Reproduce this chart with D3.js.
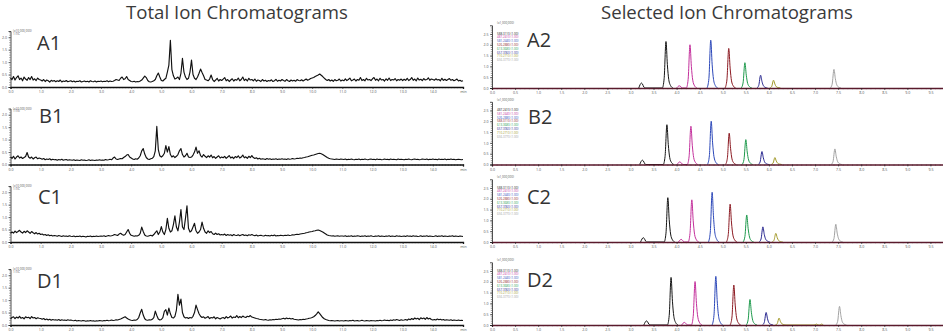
<!DOCTYPE html>
<html>
<head>
<meta charset="utf-8">
<script src="https://cdn.jsdelivr.net/npm/d3@7"></script>
<style>
  body { margin: 0; background: #fff; }
  svg { display: block; }
  text { font-family: "Open Sans", "Noto Sans", sans-serif; }
</style>
</head>
<body>
<svg id="chart" width="943" height="332"></svg>
<script>
// ---- total ion chromatograms, one value every 0.05 min from 0.0 to 15.0 (x10,000,000)
const ticStep = 0.05;
const ticA1 = [
  0.35,
  0.3, 0.42, 0.28, 0.38, 0.45, 0.3, 0.36, 0.25, 0.4, 0.32, 0.27, 0.38, 0.3, 0.42, 0.28, 0.33, 0.26, 0.36, 0.3, 0.28,
  0.24, 0.3, 0.22, 0.28, 0.25, 0.2, 0.27, 0.23, 0.26, 0.21, 0.25, 0.22, 0.28, 0.2, 0.24, 0.22, 0.26, 0.21, 0.23, 0.25,
  0.21, 0.24, 0.2, 0.23, 0.22, 0.25, 0.2, 0.22, 0.24, 0.21, 0.23, 0.2, 0.25, 0.22, 0.21, 0.24, 0.2, 0.23, 0.22, 0.24,
  0.21, 0.23, 0.22, 0.25, 0.21, 0.24, 0.22, 0.23, 0.26, 0.3, 0.28, 0.26, 0.35, 0.4, 0.3, 0.33, 0.42, 0.3, 0.26, 0.22,
  0.21, 0.23, 0.2, 0.22, 0.21, 0.24, 0.28, 0.36, 0.44, 0.38, 0.26, 0.21, 0.2, 0.22, 0.25, 0.3, 0.45, 0.56, 0.4, 0.26,
  0.24, 0.3, 0.35, 0.6, 0.88, 1.88, 0.7, 0.45, 0.32, 0.35, 0.4, 0.3, 0.55, 1.15, 0.6, 0.4, 0.3, 0.35, 0.6, 1.08,
  0.5, 0.35, 0.3, 0.4, 0.55, 0.72, 0.58, 0.45, 0.3, 0.28, 0.25, 0.32, 0.48, 0.3, 0.22, 0.28, 0.35, 0.24, 0.3, 0.26,
  0.32, 0.38, 0.25, 0.3, 0.22, 0.28, 0.33, 0.24, 0.3, 0.27, 0.36, 0.25, 0.3, 0.4, 0.26, 0.32, 0.24, 0.35, 0.28, 0.3,
  0.25, 0.32, 0.23, 0.28, 0.26, 0.22, 0.3, 0.24, 0.27, 0.22, 0.26, 0.24, 0.29, 0.22, 0.25, 0.31, 0.23, 0.27, 0.24, 0.3,
  0.26, 0.23, 0.3, 0.25, 0.22, 0.28, 0.24, 0.27, 0.23, 0.3, 0.26, 0.25, 0.29, 0.24, 0.28, 0.32, 0.27, 0.3, 0.34, 0.36,
  0.38, 0.42, 0.45, 0.48, 0.52, 0.47, 0.42, 0.36, 0.3, 0.26, 0.3, 0.24, 0.28, 0.23, 0.3, 0.25, 0.27, 0.32, 0.24, 0.28,
  0.25, 0.33, 0.26, 0.3, 0.36, 0.25, 0.28, 0.32, 0.24, 0.3, 0.27, 0.38, 0.26, 0.3, 0.25, 0.35, 0.28, 0.3, 0.26, 0.33,
  0.38, 0.27, 0.32, 0.25, 0.35, 0.28, 0.3, 0.24, 0.33, 0.27, 0.36, 0.26, 0.3, 0.28, 0.34, 0.25, 0.3, 0.27, 0.32, 0.26,
  0.31, 0.27, 0.35, 0.26, 0.3, 0.38, 0.27, 0.32, 0.25, 0.36, 0.28, 0.31, 0.26, 0.34, 0.28, 0.3, 0.37, 0.27, 0.32, 0.3,
  0.27, 0.33, 0.28, 0.3, 0.25, 0.35, 0.27, 0.31, 0.26, 0.3, 0.34, 0.27, 0.3, 0.25, 0.28, 0.32, 0.24, 0.27, 0.23, 0.25
];
const ticB1 = [
  0.3,
  0.25, 0.33, 0.22, 0.3, 0.35, 0.26, 0.3, 0.24, 0.28, 0.32, 0.48, 0.3, 0.25, 0.3, 0.22, 0.27, 0.3, 0.23, 0.26, 0.24,
  0.21, 0.24, 0.19, 0.22, 0.2, 0.23, 0.18, 0.21, 0.19, 0.2, 0.17, 0.2, 0.18, 0.21, 0.17, 0.19, 0.2, 0.17, 0.19, 0.18,
  0.17, 0.19, 0.16, 0.18, 0.17, 0.16, 0.19, 0.17, 0.18, 0.16, 0.17, 0.19, 0.16, 0.18, 0.17, 0.16, 0.18, 0.17, 0.19, 0.17,
  0.18, 0.17, 0.2, 0.18, 0.19, 0.21, 0.19, 0.26, 0.3, 0.22, 0.2, 0.22, 0.24, 0.23, 0.28, 0.32, 0.38, 0.4, 0.3, 0.26,
  0.22, 0.2, 0.23, 0.21, 0.26, 0.35, 0.55, 0.64, 0.42, 0.28, 0.22, 0.2, 0.23, 0.25, 0.32, 0.55, 1.53, 0.6, 0.35, 0.3,
  0.35, 0.45, 0.76, 0.5, 0.72, 0.4, 0.3, 0.35, 0.28, 0.33, 0.4, 0.55, 0.64, 0.4, 0.3, 0.35, 0.45, 0.3, 0.28, 0.3,
  0.38, 0.5, 0.7, 0.45, 0.55, 0.36, 0.3, 0.4, 0.33, 0.28, 0.35, 0.3, 0.38, 0.27, 0.32, 0.25, 0.3, 0.35, 0.26, 0.3,
  0.27, 0.33, 0.25, 0.3, 0.36, 0.26, 0.3, 0.24, 0.32, 0.28, 0.35, 0.26, 0.3, 0.38, 0.27, 0.31, 0.25, 0.33, 0.28, 0.36,
  0.28, 0.24, 0.27, 0.22, 0.25, 0.21, 0.23, 0.22, 0.2, 0.24, 0.21, 0.23, 0.2, 0.22, 0.21, 0.23, 0.2, 0.22, 0.21, 0.23,
  0.21, 0.22, 0.2, 0.23, 0.21, 0.22, 0.24, 0.22, 0.23, 0.25, 0.24, 0.26, 0.25, 0.27, 0.28, 0.3, 0.31, 0.33, 0.35, 0.37,
  0.38, 0.4, 0.42, 0.44, 0.45, 0.43, 0.4, 0.36, 0.32, 0.28, 0.25, 0.23, 0.22, 0.21, 0.2, 0.22, 0.21, 0.2, 0.22, 0.21,
  0.2, 0.22, 0.19, 0.21, 0.2, 0.22, 0.2, 0.19, 0.21, 0.2, 0.22, 0.19, 0.21, 0.2, 0.22, 0.2, 0.19, 0.21, 0.22, 0.2,
  0.21, 0.19, 0.22, 0.2, 0.21, 0.19, 0.2, 0.22, 0.2, 0.21, 0.19, 0.22, 0.2, 0.21, 0.2, 0.19, 0.22, 0.2, 0.21, 0.2,
  0.19, 0.21, 0.2, 0.22, 0.2, 0.19, 0.21, 0.22, 0.2, 0.21, 0.19, 0.2, 0.22, 0.21, 0.2, 0.22, 0.19, 0.21, 0.2, 0.22,
  0.2, 0.21, 0.19, 0.22, 0.2, 0.21, 0.2, 0.22, 0.19, 0.21, 0.2, 0.22, 0.2, 0.21, 0.19, 0.2, 0.21, 0.2, 0.19, 0.2
];
const ticC1 = [
  0.35,
  0.4, 0.36, 0.44, 0.38, 0.42, 0.47, 0.4, 0.36, 0.43, 0.38, 0.45, 0.4, 0.35, 0.42, 0.37, 0.33, 0.38, 0.32, 0.35, 0.3,
  0.32, 0.28, 0.3, 0.26, 0.29, 0.25, 0.27, 0.24, 0.26, 0.25, 0.23, 0.26, 0.24, 0.22, 0.25, 0.23, 0.24, 0.22, 0.25, 0.23,
  0.22, 0.24, 0.21, 0.23, 0.22, 0.24, 0.21, 0.23, 0.22, 0.2, 0.23, 0.22, 0.24, 0.21, 0.23, 0.22, 0.24, 0.22, 0.23, 0.24,
  0.23, 0.25, 0.22, 0.24, 0.26, 0.24, 0.25, 0.27, 0.3, 0.28, 0.26, 0.32, 0.35, 0.3, 0.27, 0.3, 0.4, 0.5, 0.35, 0.27,
  0.25, 0.23, 0.25, 0.24, 0.27, 0.35, 0.6, 0.42, 0.28, 0.24, 0.23, 0.25, 0.27, 0.24, 0.3, 0.38, 0.45, 0.3, 0.4, 0.62,
  0.4, 0.3, 0.5, 0.95, 0.55, 0.4, 0.45, 0.7, 1.05, 0.6, 0.45, 0.8, 1.3, 0.6, 0.5, 0.95, 1.45, 0.55, 0.4, 0.45,
  0.6, 0.75, 0.45, 0.35, 0.4, 0.5, 0.8, 0.55, 0.4, 0.35, 0.45, 0.38, 0.42, 0.33, 0.3, 0.36, 0.3, 0.33, 0.28, 0.3,
  0.28, 0.32, 0.26, 0.3, 0.27, 0.29, 0.25, 0.3, 0.27, 0.26, 0.29, 0.25, 0.28, 0.3, 0.26, 0.28, 0.25, 0.29, 0.27, 0.3,
  0.27, 0.25, 0.28, 0.24, 0.26, 0.27, 0.25, 0.24, 0.27, 0.25, 0.26, 0.24, 0.27, 0.25, 0.28, 0.24, 0.26, 0.25, 0.27, 0.26,
  0.25, 0.27, 0.26, 0.28, 0.26, 0.27, 0.29, 0.28, 0.3, 0.31, 0.3, 0.32, 0.33, 0.34, 0.35, 0.37, 0.38, 0.4, 0.41, 0.42,
  0.44, 0.45, 0.47, 0.48, 0.46, 0.43, 0.4, 0.36, 0.32, 0.28, 0.26, 0.25, 0.24, 0.25, 0.23, 0.24, 0.25, 0.23, 0.24, 0.24,
  0.23, 0.25, 0.22, 0.24, 0.23, 0.25, 0.22, 0.24, 0.23, 0.25, 0.24, 0.22, 0.24, 0.23, 0.25, 0.22, 0.24, 0.23, 0.25, 0.23,
  0.22, 0.24, 0.23, 0.25, 0.22, 0.24, 0.23, 0.22, 0.24, 0.23, 0.25, 0.22, 0.24, 0.23, 0.22, 0.25, 0.23, 0.24, 0.22, 0.23,
  0.24, 0.22, 0.25, 0.23, 0.24, 0.22, 0.25, 0.23, 0.24, 0.22, 0.23, 0.25, 0.22, 0.24, 0.23, 0.25, 0.22, 0.24, 0.23, 0.22,
  0.23, 0.25, 0.22, 0.24, 0.23, 0.25, 0.22, 0.24, 0.23, 0.22, 0.24, 0.23, 0.25, 0.22, 0.24, 0.23, 0.22, 0.24, 0.23, 0.22
];
const ticD1 = [
  0.25,
  0.3, 0.33, 0.26, 0.32, 0.28, 0.35, 0.27, 0.3, 0.25, 0.33, 0.29, 0.31, 0.26, 0.34, 0.28, 0.3, 0.25, 0.29, 0.27, 0.26,
  0.23, 0.26, 0.21, 0.24, 0.2, 0.23, 0.19, 0.22, 0.2, 0.21, 0.19, 0.22, 0.18, 0.21, 0.19, 0.2, 0.18, 0.21, 0.19, 0.2,
  0.18, 0.17, 0.19, 0.16, 0.18, 0.17, 0.16, 0.18, 0.17, 0.15, 0.17, 0.16, 0.18, 0.16, 0.17, 0.15, 0.17, 0.16, 0.18, 0.17,
  0.16, 0.18, 0.17, 0.19, 0.17, 0.18, 0.2, 0.18, 0.19, 0.21, 0.2, 0.22, 0.24, 0.27, 0.3, 0.33, 0.28, 0.24, 0.21, 0.19,
  0.18, 0.2, 0.19, 0.22, 0.3, 0.48, 0.63, 0.4, 0.25, 0.2, 0.19, 0.21, 0.2, 0.23, 0.3, 0.56, 0.38, 0.24, 0.2, 0.22,
  0.3, 0.55, 0.62, 0.4, 0.68, 0.45, 0.3, 0.28, 0.35, 0.6, 1.23, 0.8, 1.04, 0.5, 0.33, 0.28, 0.3, 0.26, 0.3, 0.28,
  0.35, 0.5, 0.8, 0.62, 0.45, 0.35, 0.3, 0.33, 0.27, 0.3, 0.34, 0.26, 0.3, 0.28, 0.33, 0.25, 0.3, 0.27, 0.24, 0.28,
  0.3, 0.26, 0.34, 0.28, 0.31, 0.36, 0.28, 0.32, 0.3, 0.38, 0.29, 0.34, 0.3, 0.36, 0.32, 0.3, 0.35, 0.33, 0.38, 0.32,
  0.3, 0.28, 0.26, 0.25, 0.23, 0.22, 0.21, 0.2, 0.22, 0.2, 0.19, 0.21, 0.2, 0.22, 0.21, 0.23, 0.22, 0.24, 0.23, 0.25,
  0.27, 0.24, 0.28, 0.25, 0.27, 0.24, 0.26, 0.23, 0.22, 0.21, 0.2, 0.22, 0.21, 0.23, 0.22, 0.24, 0.25, 0.27, 0.28, 0.3,
  0.33, 0.38, 0.45, 0.53, 0.46, 0.38, 0.3, 0.25, 0.22, 0.2, 0.18, 0.17, 0.18, 0.17, 0.16, 0.17, 0.18, 0.16, 0.17, 0.17,
  0.16, 0.18, 0.17, 0.16, 0.18, 0.17, 0.19, 0.16, 0.17, 0.18, 0.16, 0.17, 0.19, 0.17, 0.16, 0.18, 0.17, 0.16, 0.18, 0.17,
  0.17, 0.16, 0.18, 0.17, 0.19, 0.17, 0.18, 0.2, 0.18, 0.19, 0.17, 0.2, 0.18, 0.21, 0.19, 0.22, 0.2, 0.18, 0.21, 0.19,
  0.2, 0.22, 0.19, 0.24, 0.21, 0.26, 0.22, 0.28, 0.24, 0.27, 0.22, 0.29, 0.25, 0.28, 0.23, 0.3, 0.24, 0.27, 0.22, 0.2,
  0.22, 0.2, 0.24, 0.21, 0.23, 0.2, 0.22, 0.19, 0.21, 0.2, 0.19, 0.21, 0.18, 0.2, 0.19, 0.18, 0.2, 0.18, 0.19, 0.18
];

// ---- selected ion chromatograms: [min, intensity x1,000,000], one list per ion
const sicA2 = [
  [[3.18,0],[3.24,0.23],[3.31,0],[3.69,0],[3.73,0.43],[3.77,2.15],[3.8,1.08],[3.83,0.39],[3.87,0.11],[3.92,0]],
  [[4.0,0],[4.06,0.1],[4.13,0],[4.21,0],[4.25,0.4],[4.29,2.0],[4.32,1.0],[4.35,0.36],[4.39,0.1],[4.44,0]],
  [[4.66,0],[4.7,0.44],[4.74,2.21],[4.77,1.1],[4.8,0.4],[4.84,0.11],[4.89,0]],
  [[5.05,0],[5.09,0.37],[5.13,1.83],[5.16,0.92],[5.19,0.33],[5.23,0.09],[5.28,0]],
  [[5.4,0],[5.44,0.23],[5.48,1.17],[5.51,0.59],[5.54,0.21],[5.58,0.06],[5.63,0]],
  [[5.74,0],[5.78,0.12],[5.82,0.59],[5.85,0.3],[5.88,0.11],[5.92,0.03],[5.97,0]],
  [[6.02,0],[6.06,0.07],[6.1,0.36],[6.13,0.18],[6.16,0.06],[6.2,0.02],[6.25,0]],
  [[7.33,0],[7.37,0.17],[7.41,0.86],[7.44,0.43],[7.47,0.15],[7.51,0.04],[7.56,0]]
];
const sicB2 = [
  [[3.2,0],[3.26,0.2],[3.33,0],[3.71,0],[3.75,0.37],[3.79,1.84],[3.82,0.92],[3.85,0.33],[3.89,0.09],[3.94,0]],
  [[4.01,0],[4.07,0.12],[4.14,0],[4.23,0],[4.27,0.35],[4.31,1.77],[4.34,0.89],[4.37,0.32],[4.41,0.09],[4.46,0]],
  [[4.67,0],[4.71,0.4],[4.75,2.0],[4.78,1.0],[4.81,0.36],[4.85,0.1],[4.9,0]],
  [[5.06,0],[5.1,0.29],[5.14,1.45],[5.17,0.73],[5.2,0.26],[5.24,0.07],[5.29,0]],
  [[5.42,0],[5.46,0.23],[5.5,1.15],[5.53,0.58],[5.56,0.21],[5.6,0.06],[5.65,0]],
  [[5.77,0],[5.81,0.12],[5.85,0.6],[5.88,0.3],[5.91,0.11],[5.95,0.03],[6.0,0]],
  [[6.05,0],[6.09,0.06],[6.13,0.32],[6.16,0.16],[6.19,0.06],[6.23,0.02],[6.28,0]],
  [[7.35,0],[7.39,0.14],[7.43,0.72],[7.46,0.36],[7.49,0.13],[7.53,0.04],[7.58,0]]
];
const sicC2 = [
  [[3.22,0],[3.28,0.2],[3.35,0],[3.73,0],[3.77,0.41],[3.81,2.05],[3.84,1.03],[3.87,0.37],[3.91,0.1],[3.96,0]],
  [[4.04,0],[4.1,0.12],[4.17,0],[4.25,0],[4.29,0.39],[4.33,1.95],[4.36,0.98],[4.39,0.35],[4.43,0.1],[4.48,0]],
  [[4.69,0],[4.73,0.46],[4.77,2.3],[4.8,1.15],[4.83,0.41],[4.87,0.12],[4.92,0]],
  [[5.08,0],[5.12,0.35],[5.16,1.75],[5.19,0.88],[5.22,0.32],[5.26,0.09],[5.31,0]],
  [[5.44,0],[5.48,0.25],[5.52,1.25],[5.55,0.63],[5.58,0.23],[5.62,0.06],[5.67,0]],
  [[5.79,0],[5.83,0.14],[5.87,0.7],[5.9,0.35],[5.93,0.13],[5.97,0.04],[6.02,0]],
  [[6.07,0],[6.11,0.08],[6.15,0.4],[6.18,0.2],[6.21,0.07],[6.25,0.02],[6.3,0]],
  [[7.37,0],[7.41,0.16],[7.45,0.82],[7.48,0.41],[7.51,0.15],[7.55,0.04],[7.6,0]]
];
const sicD2 = [
  [[3.29,0],[3.35,0.19],[3.42,0],[3.8,0],[3.84,0.44],[3.88,2.2],[3.91,1.1],[3.94,0.4],[3.98,0.11],[4.03,0]],
  [[4.11,0],[4.17,0.12],[4.24,0],[4.32,0],[4.36,0.4],[4.4,2.01],[4.43,1.0],[4.46,0.36],[4.5,0.1],[4.55,0]],
  [[4.77,0],[4.81,0.45],[4.85,2.25],[4.88,1.12],[4.91,0.4],[4.95,0.11],[5.0,0]],
  [[5.16,0],[5.2,0.37],[5.24,1.85],[5.27,0.92],[5.3,0.33],[5.34,0.09],[5.39,0]],
  [[5.51,0],[5.55,0.24],[5.59,1.18],[5.62,0.59],[5.65,0.21],[5.69,0.06],[5.74,0]],
  [[5.86,0],[5.9,0.12],[5.94,0.58],[5.97,0.29],[6.0,0.1],[6.04,0.03],[6.09,0]],
  [[6.14,0],[6.18,0.06],[6.22,0.32],[6.25,0.16],[6.28,0.06],[6.32,0.02],[6.37,0],[6.98,0],[7.03,0.04],[7.08,0],[7.1,0],[7.14,0.04],[7.18,0]],
  [[7.45,0],[7.49,0.17],[7.53,0.86],[7.56,0.43],[7.59,0.15],[7.63,0.04],[7.68,0]]
];

const ionColors = ["#151515", "#c4309c", "#2b47b9", "#8c1a22", "#1e9a4c", "#27268f", "#a49b2c", "#a2a2a2"];
const legendA2 = ["588.3110", "487.2410", "581.2440", "526.2880", "613.3680", "657.3960", "710.2710", "656.3770"];
const legendB2 = ["487.2410", "581.2440", "526.2880", "588.3110", "613.3680", "657.3960", "710.2710", "656.3770"];
const legendC2 = ["588.3110", "487.2410", "581.2440", "526.2880", "613.3680", "657.3960", "710.2710", "656.3770"];
const legendD2 = ["588.3110", "487.2410", "581.2440", "526.2880", "613.3680", "657.3960", "710.2710", "656.3770"];

const ticXTicks = d3.range(0, 16, 1);
const ticYTicks = [0, 0.5, 1.0, 1.5, 2.0];
const sicXTicks = d3.range(0, 9.51, 0.5);
const sicYTicks = [0, 0.5, 1.0, 1.5, 2.0, 2.5];

const svg = d3.select("#chart");
const fmt = d3.format(".1f");

// titles
svg.append("text").attr("x", 237).attr("y", 19).attr("text-anchor", "middle")
  .style("font-size", "18.6px").style("fill", "#3a3a3a").text("Total Ion Chromatograms");
svg.append("text").attr("x", 727).attr("y", 19).attr("text-anchor", "middle")
  .style("font-size", "18.6px").style("fill", "#3a3a3a").text("Selected Ion Chromatograms");

function drawAxes(g, x, y, xTicks, yTicks, xMinor, yMinor, xFormat, axisColor) {
  const tiny = sel => sel.selectAll("text").style("font-size", "3.6px").style("fill", "#555");
  // minor ticks
  g.append("g").attr("transform", "translate(0," + y.range()[0] + ")")
    .call(d3.axisBottom(x).tickValues(xMinor).tickSize(1.2).tickFormat(""))
    .call(a => a.select(".domain").remove())
    .call(a => a.selectAll("line").attr("stroke", "#222").attr("stroke-width", 0.5));
  g.append("g").attr("transform", "translate(" + x.range()[0] + ",0)")
    .call(d3.axisLeft(y).tickValues(yMinor).tickSize(1.2).tickFormat(""))
    .call(a => a.select(".domain").remove())
    .call(a => a.selectAll("line").attr("stroke", "#222").attr("stroke-width", 0.5));
  // major ticks
  g.append("g").attr("transform", "translate(0," + y.range()[0] + ")")
    .call(d3.axisBottom(x).tickValues(xTicks).tickSize(2).tickPadding(1.5).tickFormat(xFormat))
    .call(a => a.select(".domain").attr("stroke", axisColor).attr("stroke-width", 1.3))
    .call(a => a.selectAll("line").attr("stroke", "#222").attr("stroke-width", 0.6))
    .call(tiny);
  g.append("g").attr("transform", "translate(" + x.range()[0] + ",0)")
    .call(d3.axisLeft(y).tickValues(yTicks).tickSize(2).tickPadding(1.5).tickFormat(fmt))
    .call(a => a.select(".domain").attr("stroke", "#222").attr("stroke-width", 0.8))
    .call(a => a.selectAll("line").attr("stroke", "#222").attr("stroke-width", 0.6))
    .call(tiny);
}

// ---- left column
const ticPanels = [
  { label: "A1", values: ticA1, base: 87, lx: 37, ly: 50 },
  { label: "B1", values: ticB1, base: 164.5, lx: 39, ly: 123 },
  { label: "C1", values: ticC1, base: 242, lx: 38, ly: 204 },
  { label: "D1", values: ticD1, base: 325, lx: 37, ly: 288 }
];
ticPanels.forEach(p => {
  const g = svg.append("g");
  const x = d3.scaleLinear().domain([0, 15]).range([10.5, 463]);
  const y = d3.scaleLinear().domain([0, 2.25]).range([p.base, p.base - 56]);
  drawAxes(g, x, y, ticXTicks, ticYTicks, d3.range(0, 15.01, 0.1), d3.range(0, 2.21, 0.1),
    d => d === 15 ? "min" : fmt(d), "#111");
  const line = d3.line().x((d, i) => x(i * ticStep)).y(d => y(d));
  g.append("path").datum(p.values).attr("d", line)
    .attr("fill", "none").attr("stroke", "#111").attr("stroke-width", 1.15).attr("stroke-linejoin", "round");
  g.append("text").attr("x", 13).attr("y", p.base - 55).style("font-size", "3px").style("fill", "#555").text("(x10,000,000)");
  g.append("text").attr("x", 13).attr("y", p.base - 52.3).style("font-size", "3px").style("fill", "#555").text("1:TIC");
  g.append("text").attr("x", p.lx).attr("y", p.ly).style("font-size", "20px").style("fill", "#333").text(p.label);
});

// ---- right column
const sicPanels = [
  { label: "A2", ions: sicA2, legend: legendA2, base: 88, lx: 527, ly: 47 },
  { label: "B2", ions: sicB2, legend: legendB2, base: 164.5, lx: 528, ly: 124 },
  { label: "C2", ions: sicC2, legend: legendC2, base: 242, lx: 527, ly: 204 },
  { label: "D2", ions: sicD2, legend: legendD2, base: 325, lx: 527, ly: 287 }
];
sicPanels.forEach(p => {
  const g = svg.append("g");
  const x = d3.scaleLinear().domain([0, 10]).range([492, 953.5]);
  const y = d3.scaleLinear().domain([0, 2.9]).range([p.base, p.base - 62.7]);
  const line = d3.line().x(d => x(d[0])).y(d => y(d[1])).curve(d3.curveMonotoneX);
  p.ions.forEach((ion, i) => {
    g.append("path").datum(ion).attr("d", line)
      .attr("fill", "none").attr("stroke", ionColors[i]).attr("stroke-width", 1).attr("stroke-linejoin", "round");
  });
  drawAxes(g, x, y, sicXTicks, sicYTicks, d3.range(0, 10.01, 0.1), d3.range(0, 2.81, 0.1), fmt, "#5a1a2c");
  g.append("text").attr("x", 497).attr("y", p.base - 64).style("font-size", "3px").style("fill", "#555").text("(x1,000,000)");
  p.legend.forEach((m, i) => {
    g.append("text").attr("x", 497).attr("y", p.base - 53.5 + i * 3.8)
      .style("font-size", "3px").style("fill", ionColors[i]).text(m + " (1.00)");
  });
  g.append("text").attr("x", p.lx).attr("y", p.ly).style("font-size", "20px").style("fill", "#333").text(p.label);
});
</script>
</body>
</html>
